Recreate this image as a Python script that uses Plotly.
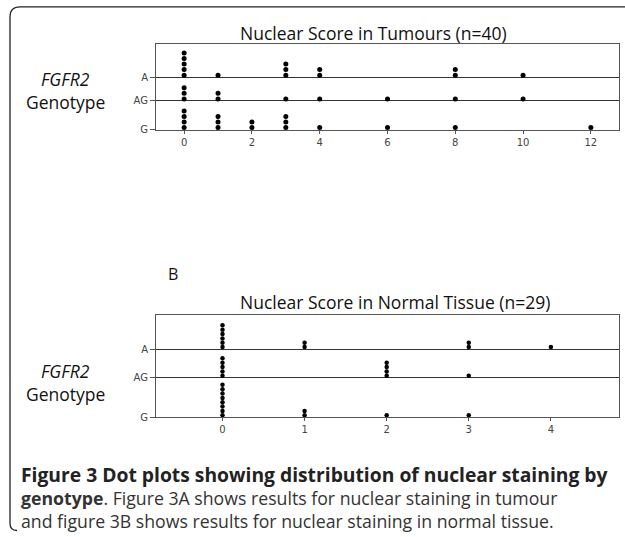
import plotly.graph_objects as go

# ---------------- data ----------------
genotypes = ["G", "AG", "A"]

tumour_A_scores = [0, 1, 3, 4, 8, 10]
tumour_A_counts = [5, 1, 3, 2, 2, 1]
tumour_AG_scores = [0, 1, 3, 4, 6, 8, 10]
tumour_AG_counts = [3, 2, 1, 1, 1, 1, 1]
tumour_G_scores = [0, 1, 2, 3, 4, 6, 8, 12]
tumour_G_counts = [4, 3, 2, 3, 1, 1, 1, 1]

normal_A_scores = [0, 1, 3, 4]
normal_A_counts = [6, 2, 2, 1]
normal_AG_scores = [0, 2, 3]
normal_AG_counts = [5, 4, 1]
normal_G_scores = [0, 1, 2, 3]
normal_G_counts = [8, 2, 1, 1]

tumour_ticks = [0, 2, 4, 6, 8, 10, 12]
normal_ticks = [0, 1, 2, 3, 4]

# ---------------- layout constants ----------------
W, H = 625, 537
FONT = "Open Sans"

def px_x(p):
    return p / W

def px_y(p):
    return 1 - p / H

# row baselines (in y-axis units, 1 unit ~ 1 px)
top_rows = {"G": 0, "AG": 29, "A": 53}
top_yrange = [0, 87]
top_step = 5.6
bot_rows = {"G": 0, "AG": 40, "A": 69}
bot_yrange = [0, 103]
bot_step = 4.4
lift = 2.0

def stack(scores, counts, base, step):
    xs, ys = [], []
    for s, c in zip(scores, counts):
        for k in range(c):
            xs.append(s)
            ys.append(base + lift + k * step)
    return xs, ys

fig = go.Figure()

top_sets = {"A": (tumour_A_scores, tumour_A_counts),
            "AG": (tumour_AG_scores, tumour_AG_counts),
            "G": (tumour_G_scores, tumour_G_counts)}
bot_sets = {"A": (normal_A_scores, normal_A_counts),
            "AG": (normal_AG_scores, normal_AG_counts),
            "G": (normal_G_scores, normal_G_counts)}

for g in genotypes:
    xs, ys = stack(*top_sets[g], top_rows[g], top_step)
    fig.add_trace(go.Scatter(x=xs, y=ys, mode="markers", xaxis="x", yaxis="y",
                             marker=dict(color="black", size=5), cliponaxis=False,
                             showlegend=False, hoverinfo="x"))
    xs, ys = stack(*bot_sets[g], bot_rows[g], bot_step)
    fig.add_trace(go.Scatter(x=xs, y=ys, mode="markers", xaxis="x2", yaxis="y2",
                             marker=dict(color="black", size=4.5), cliponaxis=False,
                             showlegend=False, hoverinfo="x"))

axis_common = dict(showline=True, linecolor="#555", linewidth=1, mirror=True,
                   ticks="outside", tickcolor="#555", zeroline=False,
                   tickfont=dict(family="DejaVu Sans", size=10, color="#444"))

fig.update_layout(
    width=W, height=H,
    margin=dict(l=0, r=0, t=0, b=0),
    paper_bgcolor="white", plot_bgcolor="white",
    xaxis=dict(domain=[px_x(156), px_x(619)], anchor="y", range=[-0.83, 12.83],
               tickvals=tumour_ticks, showgrid=False, ticklen=3, **axis_common),
    yaxis=dict(domain=[px_y(131), px_y(44)], anchor="x", range=top_yrange,
               tickvals=[top_rows[g] for g in genotypes], ticktext=genotypes,
               showgrid=True, gridcolor="#333", gridwidth=1, ticklen=5,
               **axis_common),
    xaxis2=dict(domain=[px_x(156), px_x(619)], anchor="y2", range=[-0.81, 4.83],
                tickvals=normal_ticks, showgrid=False, ticklen=3, **axis_common),
    yaxis2=dict(domain=[px_y(422), px_y(319)], anchor="x2", range=bot_yrange,
                tickvals=[bot_rows[g] for g in genotypes], ticktext=genotypes,
                showgrid=True, gridcolor="#333", gridwidth=1, ticklen=5,
                **axis_common),
)

def ann(text, x, y, size, xanchor="center", italic=False, color="#111", align="center"):
    fig.add_annotation(text=text, x=px_x(x), y=px_y(y), xref="paper", yref="paper",
                       xanchor=xanchor, yanchor="middle", showarrow=False, align=align,
                       font=dict(family=FONT, size=size, color=color,
                                 style="italic" if italic else "normal"))

ann("Nuclear Score in Tumours (n=40)", 373, 33, 17.5)
ann("Nuclear Score in Normal Tissue (n=29)", 395, 305, 17.5)
ann("B", 173, 277, 16)
ann("FGFR2", 65, 80, 17.5, italic=True)
ann("Genotype", 65, 103, 17.5)
ann("FGFR2", 65, 375, 17.5, italic=True)
ann("Genotype", 65, 398, 17.5)

cap1 = ("<span style='font-size:19.3px;color:#222'><b>Figure 3 Dot plots showing "
        "distribution of nuclear staining by</b></span>")
cap2 = "<b>genotype</b>. Figure 3A shows results for nuclear staining in tumour"
cap3 = "and figure 3B shows results for nuclear staining in normal tissue."
ann(cap1 + "<br>" + cap2 + "<br>" + cap3, 19, 503, 17.7, xanchor="left",
    color="#333", align="left")

# rounded frame (top and left edges)
r = 10
path = (f"M 1.0,{px_y(7)} L {px_x(10 + r)},{px_y(7)} "
        f"Q {px_x(10)},{px_y(7)} {px_x(10)},{px_y(7 + r)} "
        f"L {px_x(10)},{px_y(536.5 - 7)} Q {px_x(10)},{px_y(536.5)} {px_x(17)},{px_y(536.5)}")
fig.add_shape(type="path", path=path, xref="paper", yref="paper",
              line=dict(color="#222", width=1.3))

fig.write_html("out.html", config={"displayModeBar": False},
               post_script="document.body.style.margin='0';"
                           "document.body.style.overflow='hidden';"
                           "document.documentElement.style.overflow='hidden';")
